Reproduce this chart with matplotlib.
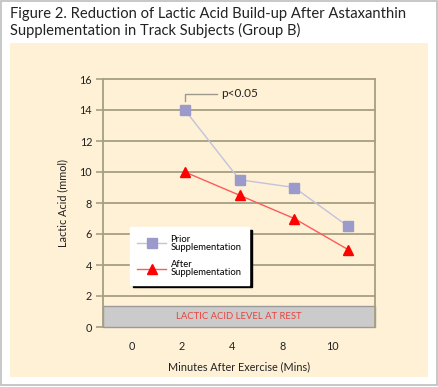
import matplotlib
matplotlib.use("Agg")
import matplotlib.pyplot as plt
from matplotlib.patches import Rectangle

# ---- data ----
tick_labels = ["0", "2", "4", "8", "10"]
tick_pos = [0, 1, 2, 3, 4]
point_pos = [1.06, 2.15, 3.24, 4.31]
prior = [14, 9.5, 9, 6.5]
after = [10, 8.5, 7, 5]
rest_level = 1.35
y_ticks = [0, 2, 4, 6, 8, 10, 12, 14, 16]

title = "Figure 2. Reduction of Lactic Acid Build-up After Astaxanthin\nSupplementation in Track Subjects (Group B)"
xlabel = "Minutes After Exercise (Mins)"
ylabel = "Lactic Acid (mmol)"
rest_text = "LACTIC ACID LEVEL AT REST"
sig_text = "p<0.05"

plt.rcParams['font.family'] = ['Lato', 'DejaVu Sans']

W, H = 439, 387
fig = plt.figure(figsize=(W / 100, H / 100), dpi=100)
fig.patch.set_facecolor("white")

def fx(px):
    return px / W

def fy(py):
    return 1 - py / H

# outer border
fig.add_artist(Rectangle((fx(1), fy(385)), fx(436), (384) / H, transform=fig.transFigure,
                         facecolor="none", edgecolor="#bdbdbd", lw=1.2, zorder=-10))
# cream panel
cream = "#fef1d6"
fig.add_artist(Rectangle((fx(10), fy(377)), fx(418), (377 - 43) / H, transform=fig.transFigure,
                         facecolor=cream, edgecolor="none", zorder=-9))

fig.text(fx(10), fy(7), title, ha="left", va="top", fontsize=10.6, color="#222222",
         linespacing=1.2)

left, right, top, bottom = 103.3, 375, 79, 327
ax = fig.add_axes([fx(left), fy(bottom), (right - left) / W, (bottom - top) / H])
ax.set_facecolor(cream)
ax.set_xlim(-0.566, 4.85)
ax.set_ylim(0, 16)

grid_c = "#a69f84"
for y in y_ticks[1:]:
    ax.axhline(y, color=grid_c, lw=1.3, zorder=1, clip_on=False)

for s in ["top", "bottom"]:
    ax.spines[s].set_visible(False)
for s in ["left", "right"]:
    ax.spines[s].set_color(grid_c)
    ax.spines[s].set_linewidth(1.3)

# rest band
ax.add_patch(Rectangle((-0.566, 0), 4.85 + 0.566, rest_level, facecolor="#cbcbcb",
                       edgecolor="#9a9a9a", lw=1.0, zorder=2, clip_on=False))
ax.text(2.14, rest_level / 2, rest_text, ha="center", va="center", color="#e8433c",
        fontsize=6.8, zorder=3)

ax.set_yticks(y_ticks)
ax.set_yticklabels([str(v) for v in y_ticks])
ax.tick_params(axis="y", length=5, width=1.2, color=grid_c, labelsize=7.8, pad=3,
               labelcolor="#222222")
ax.set_xticks(tick_pos)
ax.set_xticklabels(tick_labels)
ax.tick_params(axis="x", length=0, labelsize=7.8, pad=10, labelcolor="#222222")

ax.set_xlabel(xlabel, fontsize=7.8, color="#222222", labelpad=7)
ax.set_ylabel(ylabel, fontsize=7.8, color="#222222", labelpad=8)

ax.plot(point_pos, prior, color="#c3c2dc", lw=1.0, marker="s", markersize=6.5,
        markerfacecolor="#9c9acb", markeredgecolor="#9c9acb", zorder=4,
        label="Prior\nSupplementation")
ax.plot(point_pos, after, color="#ff5a5a", lw=1.0, marker="^", markersize=7,
        markerfacecolor="#ff0000", markeredgecolor="#ff0000", zorder=4,
        label="After\nSupplementation")

# significance bracket
bx0 = point_pos[0]
ax.plot([bx0, bx0, bx0 + 0.65], [14.55, 15.05, 15.05], color="#9e9a8c", lw=1.0, zorder=3)
ax.text(bx0 + 0.72, 15.05, sig_text, ha="left", va="center", fontsize=8.5, color="#222222")

leg = ax.legend(loc="upper left", bbox_to_anchor=(0.098, 0.403), borderaxespad=0,
                fontsize=6.8, frameon=True, fancybox=False,
                shadow={"color": "black", "alpha": 1},
                handlelength=3.0, labelspacing=0.9, borderpad=0.8, handletextpad=0.5)
leg.get_frame().set_facecolor("white")
leg.get_frame().set_edgecolor("white")
leg.set_zorder(6)
for t in leg.get_texts():
    t.set_linespacing(0.85)

fig.savefig("out.png", dpi=100, facecolor="white")
